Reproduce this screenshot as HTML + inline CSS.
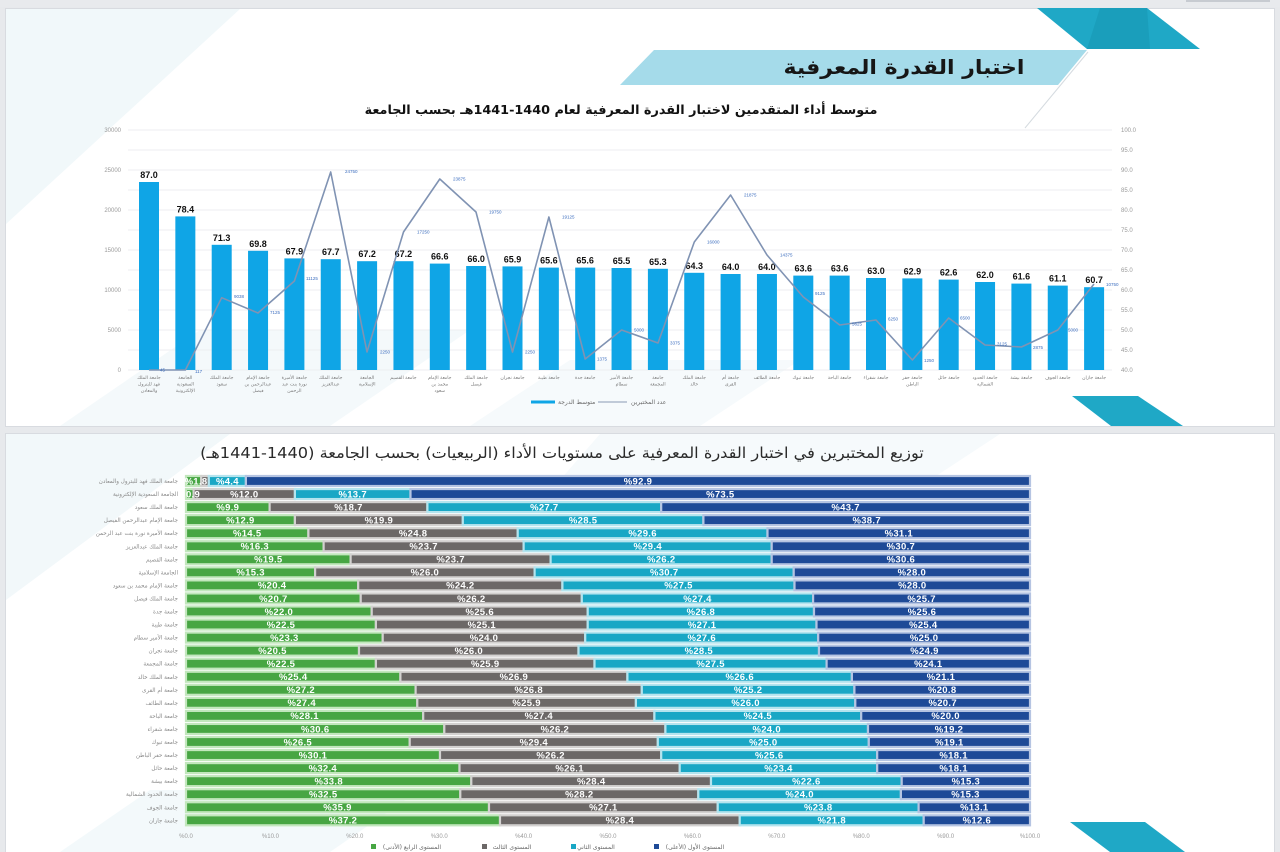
<!DOCTYPE html>
<html><head><meta charset="utf-8">
<style>
html,body{margin:0;padding:0;}
body{width:1280px;height:852px;overflow:hidden;background:#e7e9ec;position:relative;font-family:"Liberation Sans","DejaVu Sans",sans-serif;}
svg{position:absolute;left:0;top:0;}
.t1{position:absolute;left:321px;top:103px;width:600px;text-align:center;direction:rtl;white-space:nowrap;font:bold 12.8px "DejaVu Sans",sans-serif;color:#111;}
.t2{position:absolute;left:162px;top:444px;width:800px;text-align:center;direction:rtl;white-space:nowrap;font:15px "DejaVu Sans",sans-serif;color:#2a2a2a;transform:scaleX(1.08);transform-origin:center;}
.G{fill:#47a643;stroke:#c2e7bd;stroke-width:2.2}
.R{fill:#6c6867;stroke:#d3d1d0;stroke-width:2.2}
.C{fill:#19a7c5;stroke:#b4e4ee;stroke-width:2.2}
.B{fill:#1e4a97;stroke:#b5c4e2;stroke-width:2.2}
.L{fill:#fff;font:bold 9.5px "Liberation Sans",sans-serif;text-anchor:middle;letter-spacing:0.3px}
.N{fill:#8a8a8a;font:5.6px "DejaVu Sans",sans-serif;text-anchor:end}
.ax{fill:#9a9a9a;font:6px "Liberation Sans",sans-serif}
.bv{fill:#111;font:bold 9px "Liberation Sans",sans-serif;text-anchor:middle}
.lv{fill:#3b6dbf;font:4.5px "Liberation Sans",sans-serif}
.cat{fill:#7a7a7a;font:4.6px "DejaVu Sans",sans-serif;text-anchor:middle}
.lg{fill:#666;font:6px "DejaVu Sans",sans-serif}
</style></head>
<body>
<svg width="1280" height="852" viewBox="0 0 1280 852" xmlns="http://www.w3.org/2000/svg">
<rect x="0" y="0" width="1280" height="7" fill="#e8eaed"/>
<rect x="1186" y="0" width="84" height="2" fill="#c7cbd1"/>
<rect x="5.5" y="8.5" width="1269" height="418" fill="#ffffff" stroke="#d8dbe0"/>
<rect x="5.5" y="433.5" width="1269" height="430" fill="#ffffff" stroke="#d8dbe0"/>
<polygon points="6,9 240,9 6,224" fill="#f1f8fa"/>
<polygon points="60,426 330,426 470,330 200,330" fill="#f4f9fb"/>
<polygon points="470,426 700,426 800,360 570,360" fill="#f6fafc"/>
<polygon points="6,434 230,434 6,600" fill="#f2f8fa"/>
<polygon points="600,434 1000,434 930,480 560,480" fill="#f6fafc"/>
<polygon points="60,852 330,852 420,790 150,790" fill="#f3f9fb"/>

<polygon points="1037,8 1147,8 1200,49 1087,49" fill="#1fa8c6"/>
<polygon points="1100,8 1147,8 1150,49 1087,49" fill="#1897b4" opacity="0.6"/>
<polygon points="654,50 1087,50 1058,85 620,85" fill="#a5dbea"/>
<line x1="1088" y1="52" x2="1025" y2="128" stroke="#d5dbe0" stroke-width="1"/>
<text transform="translate(904,74) scale(1.1,1)" x="0" y="0" font-family="DejaVu Sans" font-weight="bold" font-size="20" text-anchor="middle" fill="#161616">اختبار القدرة المعرفية</text>

<polygon points="1072,396 1138,396 1183,426 1111,426" fill="#1fa8c6"/>
<polygon points="1070,822 1145,822 1185,852 1110,852" fill="#1fa8c6"/>

<g stroke="#eceef1" stroke-width="1">
<line x1="128" y1="130" x2="1112" y2="130"/><line x1="128" y1="150" x2="1112" y2="150"/>
<line x1="128" y1="170" x2="1112" y2="170"/><line x1="128" y1="190" x2="1112" y2="190"/>
<line x1="128" y1="210" x2="1112" y2="210"/><line x1="128" y1="230" x2="1112" y2="230"/>
<line x1="128" y1="250" x2="1112" y2="250"/><line x1="128" y1="270" x2="1112" y2="270"/>
<line x1="128" y1="290" x2="1112" y2="290"/><line x1="128" y1="310" x2="1112" y2="310"/>
<line x1="128" y1="330" x2="1112" y2="330"/><line x1="128" y1="350" x2="1112" y2="350"/>
<line x1="128" y1="370" x2="1112" y2="370"/>
</g>
<g class="ax" text-anchor="end">
<text x="121" y="132">30000</text><text x="121" y="172">25000</text><text x="121" y="212">20000</text>
<text x="121" y="252">15000</text><text x="121" y="292">10000</text><text x="121" y="332">5000</text>
<text x="121" y="372">0</text>
</g>
<g class="ax">
<text x="1121" y="132">100.0</text><text x="1121" y="152">95.0</text><text x="1121" y="172">90.0</text>
<text x="1121" y="192">85.0</text><text x="1121" y="212">80.0</text><text x="1121" y="232">75.0</text>
<text x="1121" y="252">70.0</text><text x="1121" y="272">65.0</text><text x="1121" y="292">60.0</text>
<text x="1121" y="312">55.0</text><text x="1121" y="332">50.0</text><text x="1121" y="352">45.0</text>
<text x="1121" y="372">40.0</text>
</g>
<g fill="#0fa5e6">
<rect x="139" y="182" width="20" height="188"/>
<rect x="175.35" y="216.4" width="20" height="153.6"/>
<rect x="211.7" y="244.8" width="20" height="125.2"/>
<rect x="248.05" y="250.8" width="20" height="119.2"/>
<rect x="284.4" y="258.4" width="20" height="111.6"/>
<rect x="320.75" y="259.2" width="20" height="110.8"/>
<rect x="357.1" y="261.2" width="20" height="108.8"/>
<rect x="393.45" y="261.2" width="20" height="108.8"/>
<rect x="429.8" y="263.6" width="20" height="106.4"/>
<rect x="466.15" y="266" width="20" height="104"/>
<rect x="502.5" y="266.4" width="20" height="103.6"/>
<rect x="538.85" y="267.6" width="20" height="102.4"/>
<rect x="575.2" y="267.6" width="20" height="102.4"/>
<rect x="611.55" y="268" width="20" height="102"/>
<rect x="647.9" y="268.8" width="20" height="101.2"/>
<rect x="684.25" y="272.8" width="20" height="97.2"/>
<rect x="720.6" y="274" width="20" height="96"/>
<rect x="756.95" y="274" width="20" height="96"/>
<rect x="793.3" y="275.6" width="20" height="94.4"/>
<rect x="829.65" y="275.6" width="20" height="94.4"/>
<rect x="866" y="278" width="20" height="92"/>
<rect x="902.35" y="278.4" width="20" height="91.6"/>
<rect x="938.7" y="279.6" width="20" height="90.4"/>
<rect x="975.05" y="282" width="20" height="88"/>
<rect x="1011.4" y="283.6" width="20" height="86.4"/>
<rect x="1047.75" y="285.6" width="20" height="84.4"/>
<rect x="1084.1" y="287.2" width="20" height="82.8"/>
</g>
<g class="bv">
<text x="149" y="178">87.0</text><text x="185.35" y="212.4">78.4</text><text x="221.7" y="240.8">71.3</text>
<text x="258.05" y="246.8">69.8</text><text x="294.4" y="254.4">67.9</text><text x="330.75" y="255.2">67.7</text>
<text x="367.1" y="257.2">67.2</text><text x="403.45" y="257.2">67.2</text><text x="439.8" y="259.6">66.6</text>
<text x="476.15" y="262">66.0</text><text x="512.5" y="262.4">65.9</text><text x="548.85" y="263.6">65.6</text>
<text x="585.2" y="263.6">65.6</text><text x="621.55" y="264">65.5</text><text x="657.9" y="264.8">65.3</text>
<text x="694.25" y="268.8">64.3</text><text x="730.6" y="270">64.0</text><text x="766.95" y="270">64.0</text>
<text x="803.3" y="271.6">63.6</text><text x="839.65" y="271.6">63.6</text><text x="876" y="274">63.0</text>
<text x="912.35" y="274.4">62.9</text><text x="948.7" y="275.6">62.6</text><text x="985.05" y="278">62.0</text>
<text x="1021.4" y="279.6">61.6</text><text x="1057.75" y="281.6">61.1</text><text x="1094.1" y="283.2">60.7</text>
</g>
<polyline fill="none" stroke="#8093b3" stroke-width="1.6" stroke-linejoin="round"
points="149,370 185.4,370 221.7,297.7 258,313 294.4,281 330.7,172 367,352 403.5,232 439.8,179 476,212 512.5,352 548.9,217 585.2,359 621.6,330 658,343 694.3,242 730.6,195 767,255 803.3,297 839.7,325 876,320 912.4,360 948.7,318 985,345 1021.4,347 1057.8,330 1094,284"/>
<g class="lv">
<text x="160" y="371.5">45</text><text x="195" y="373">117</text><text x="234" y="298">9038</text>
<text x="270" y="314">7125</text><text x="306" y="280">11125</text><text x="345" y="173">24750</text>
<text x="380" y="353.5">2250</text><text x="417" y="233.5">17250</text><text x="453" y="180.5">23875</text>
<text x="489" y="213.5">19750</text><text x="525" y="353.5">2250</text><text x="562" y="218.5">19125</text>
<text x="597" y="360.5">1375</text><text x="634" y="331.5">5000</text><text x="670" y="344.5">3375</text>
<text x="707" y="243.5">16000</text><text x="744" y="196.5">21875</text><text x="780" y="256.5">14375</text>
<text x="815" y="295">9125</text><text x="852" y="325.5">5625</text><text x="888" y="320.5">6250</text>
<text x="924" y="362">1250</text><text x="960" y="319.5">6500</text><text x="997" y="345.5">3125</text>
<text x="1033" y="349">2875</text><text x="1068" y="331.5">5000</text><text x="1106" y="286">10750</text>
</g>
<g class="cat">
<text x="149" y="379">جامعة الملك</text><text x="149" y="385.5">فهد للبترول</text><text x="149" y="392">والمعادن</text>
<text x="185.35" y="379">الجامعة</text><text x="185.35" y="385.5">السعودية</text><text x="185.35" y="392">الإلكترونية</text>
<text x="221.7" y="379">جامعة الملك</text><text x="221.7" y="385.5">سعود</text>
<text x="258.05" y="379">جامعة الإمام</text><text x="258.05" y="385.5">عبدالرحمن بن</text><text x="258.05" y="392">فيصل</text>
<text x="294.4" y="379">جامعة الأميرة</text><text x="294.4" y="385.5">نورة بنت عبد</text><text x="294.4" y="392">الرحمن</text>
<text x="330.75" y="379">جامعة الملك</text><text x="330.75" y="385.5">عبدالعزيز</text>
<text x="367.1" y="379">الجامعة</text><text x="367.1" y="385.5">الإسلامية</text>
<text x="403.45" y="379">جامعة القصيم</text>
<text x="439.8" y="379">جامعة الإمام</text><text x="439.8" y="385.5">محمد بن</text><text x="439.8" y="392">سعود</text>
<text x="476.15" y="379">جامعة الملك</text><text x="476.15" y="385.5">فيصل</text>
<text x="512.5" y="379">جامعة نجران</text>
<text x="548.85" y="379">جامعة طيبة</text>
<text x="585.2" y="379">جامعة جدة</text>
<text x="621.55" y="379">جامعة الأمير</text><text x="621.55" y="385.5">سطام</text>
<text x="657.9" y="379">جامعة</text><text x="657.9" y="385.5">المجمعة</text>
<text x="694.25" y="379">جامعة الملك</text><text x="694.25" y="385.5">خالد</text>
<text x="730.6" y="379">جامعة أم</text><text x="730.6" y="385.5">القرى</text>
<text x="766.95" y="379">جامعة الطائف</text>
<text x="803.3" y="379">جامعة تبوك</text>
<text x="839.65" y="379">جامعة الباحة</text>
<text x="876" y="379">جامعة شقراء</text>
<text x="912.35" y="379">جامعة حفر</text><text x="912.35" y="385.5">الباطن</text>
<text x="948.7" y="379">جامعة حائل</text>
<text x="985.05" y="379">جامعة الحدود</text><text x="985.05" y="385.5">الشمالية</text>
<text x="1021.4" y="379">جامعة بيشة</text>
<text x="1057.75" y="379">جامعة الجوف</text>
<text x="1094.1" y="379">جامعة جازان</text>
</g>
<rect x="531" y="400.5" width="24" height="3" fill="#0fa5e6"/>
<text class="lg" x="558" y="404">متوسط الدرجة</text>
<line x1="598" y1="402" x2="627" y2="402" stroke="#8a9ab5" stroke-width="1"/>
<text class="lg" x="631" y="404">عدد المختبرين</text>

<g id="rows">
<g transform="translate(0,481)">
<rect class="G" x="186" y="-5" width="15.2" height="10"/><rect class="R" x="201.2" y="-5" width="7.6" height="10"/><rect class="C" x="208.8" y="-5" width="37.1" height="10"/><rect class="B" x="245.9" y="-5" width="784.1" height="10"/>
<text class="L" x="196" y="3.3">%1.8</text><text class="L" x="227.4" y="3.3">%4.4</text><text class="L" x="638" y="3.3">%92.9</text>
<text class="N" x="178" y="2">جامعة الملك فهد للبترول والمعادن</text></g>
<g transform="translate(0,494.05)">
<rect class="G" x="186" y="-5" width="7.6" height="10"/><rect class="R" x="193.6" y="-5" width="101.3" height="10"/><rect class="C" x="294.9" y="-5" width="115.6" height="10"/><rect class="B" x="410.5" y="-5" width="619.5" height="10"/>
<text class="L" x="193" y="3.3">0.9</text><text class="L" x="244.3" y="3.3">%12.0</text><text class="L" x="352.7" y="3.3">%13.7</text><text class="L" x="720.3" y="3.3">%73.5</text>
<text class="N" x="178" y="2">الجامعة السعودية الإلكترونية</text></g>
<g transform="translate(0,507.1)">
<rect class="G" x="186" y="-5" width="83.6" height="10"/><rect class="R" x="269.6" y="-5" width="157.8" height="10"/><rect class="C" x="427.4" y="-5" width="233.8" height="10"/><rect class="B" x="661.2" y="-5" width="368.8" height="10"/>
<text class="L" x="227.8" y="3.3">%9.9</text><text class="L" x="348.5" y="3.3">%18.7</text><text class="L" x="544.3" y="3.3">%27.7</text><text class="L" x="845.6" y="3.3">%43.7</text>
<text class="N" x="178" y="2">جامعة الملك سعود</text></g>
<g transform="translate(0,520.15)">
<rect class="G" x="186" y="-5" width="108.9" height="10"/><rect class="R" x="294.9" y="-5" width="167.9" height="10"/><rect class="C" x="462.8" y="-5" width="240.6" height="10"/><rect class="B" x="703.4" y="-5" width="326.6" height="10"/>
<text class="L" x="240.4" y="3.3">%12.9</text><text class="L" x="378.9" y="3.3">%19.9</text><text class="L" x="583.1" y="3.3">%28.5</text><text class="L" x="866.7" y="3.3">%38.7</text>
<text class="N" x="178" y="2">جامعة الإمام عبدالرحمن الفيصل</text></g>
<g transform="translate(0,533.2)">
<rect class="G" x="186" y="-5" width="122.4" height="10"/><rect class="R" x="308.4" y="-5" width="209.3" height="10"/><rect class="C" x="517.7" y="-5" width="249.8" height="10"/><rect class="B" x="767.5" y="-5" width="262.5" height="10"/>
<text class="L" x="247.2" y="3.3">%14.5</text><text class="L" x="413.1" y="3.3">%24.8</text><text class="L" x="642.6" y="3.3">%29.6</text><text class="L" x="898.8" y="3.3">%31.1</text>
<text class="N" x="178" y="2">جامعة الأميرة نورة بنت عبد الرحمن</text></g>
<g transform="translate(0,546.25)">
<rect class="G" x="186" y="-5" width="137.6" height="10"/><rect class="R" x="323.6" y="-5" width="200" height="10"/><rect class="C" x="523.6" y="-5" width="248.1" height="10"/><rect class="B" x="771.7" y="-5" width="258.3" height="10"/>
<text class="L" x="254.8" y="3.3">%16.3</text><text class="L" x="423.6" y="3.3">%23.7</text><text class="L" x="647.7" y="3.3">%29.4</text><text class="L" x="900.9" y="3.3">%30.7</text>
<text class="N" x="178" y="2">جامعة الملك عبدالعزيز</text></g>
<g transform="translate(0,559.3)">
<rect class="G" x="186" y="-5" width="164.6" height="10"/><rect class="R" x="350.6" y="-5" width="200" height="10"/><rect class="C" x="550.6" y="-5" width="221.1" height="10"/><rect class="B" x="771.7" y="-5" width="258.3" height="10"/>
<text class="L" x="268.3" y="3.3">%19.5</text><text class="L" x="450.6" y="3.3">%23.7</text><text class="L" x="661.2" y="3.3">%26.2</text><text class="L" x="900.9" y="3.3">%30.6</text>
<text class="N" x="178" y="2">جامعة القصيم</text></g>
<g transform="translate(0,572.35)">
<rect class="G" x="186" y="-5" width="129.1" height="10"/><rect class="R" x="315.1" y="-5" width="219.5" height="10"/><rect class="C" x="534.6" y="-5" width="259.1" height="10"/><rect class="B" x="793.7" y="-5" width="236.3" height="10"/>
<text class="L" x="250.6" y="3.3">%15.3</text><text class="L" x="424.9" y="3.3">%26.0</text><text class="L" x="664.2" y="3.3">%30.7</text><text class="L" x="911.9" y="3.3">%28.0</text>
<text class="N" x="178" y="2">الجامعة الإسلامية</text></g>
<g transform="translate(0,585.4)">
<rect class="G" x="186" y="-5" width="172.2" height="10"/><rect class="R" x="358.2" y="-5" width="204.2" height="10"/><rect class="C" x="562.4" y="-5" width="232.1" height="10"/><rect class="B" x="794.5" y="-5" width="235.5" height="10"/>
<text class="L" x="272.1" y="3.3">%20.4</text><text class="L" x="460.3" y="3.3">%24.2</text><text class="L" x="678.5" y="3.3">%27.5</text><text class="L" x="912.3" y="3.3">%28.0</text>
<text class="N" x="178" y="2">جامعة الإمام محمد بن سعود</text></g>
<g transform="translate(0,598.45)">
<rect class="G" x="186" y="-5" width="174.7" height="10"/><rect class="R" x="360.7" y="-5" width="221.1" height="10"/><rect class="C" x="581.8" y="-5" width="231.3" height="10"/><rect class="B" x="813.1" y="-5" width="216.9" height="10"/>
<text class="L" x="273.4" y="3.3">%20.7</text><text class="L" x="471.3" y="3.3">%26.2</text><text class="L" x="697.5" y="3.3">%27.4</text><text class="L" x="921.6" y="3.3">%25.7</text>
<text class="N" x="178" y="2">جامعة الملك فيصل</text></g>
<g transform="translate(0,611.5)">
<rect class="G" x="186" y="-5" width="185.7" height="10"/><rect class="R" x="371.7" y="-5" width="216" height="10"/><rect class="C" x="587.7" y="-5" width="226.3" height="10"/><rect class="B" x="814" y="-5" width="216" height="10"/>
<text class="L" x="278.9" y="3.3">%22.0</text><text class="L" x="479.7" y="3.3">%25.6</text><text class="L" x="700.9" y="3.3">%26.8</text><text class="L" x="922" y="3.3">%25.6</text>
<text class="N" x="178" y="2">جامعة جدة</text></g>
<g transform="translate(0,624.55)">
<rect class="G" x="186" y="-5" width="189.9" height="10"/><rect class="R" x="375.9" y="-5" width="211.8" height="10"/><rect class="C" x="587.7" y="-5" width="228.8" height="10"/><rect class="B" x="816.5" y="-5" width="213.5" height="10"/>
<text class="L" x="281" y="3.3">%22.5</text><text class="L" x="481.8" y="3.3">%25.1</text><text class="L" x="702.1" y="3.3">%27.1</text><text class="L" x="923.3" y="3.3">%25.4</text>
<text class="N" x="178" y="2">جامعة طيبة</text></g>
<g transform="translate(0,637.6)">
<rect class="G" x="186" y="-5" width="196.7" height="10"/><rect class="R" x="382.7" y="-5" width="202.5" height="10"/><rect class="C" x="585.2" y="-5" width="233" height="10"/><rect class="B" x="818.2" y="-5" width="211.8" height="10"/>
<text class="L" x="284.4" y="3.3">%23.3</text><text class="L" x="484" y="3.3">%24.0</text><text class="L" x="701.7" y="3.3">%27.6</text><text class="L" x="924.1" y="3.3">%25.0</text>
<text class="N" x="178" y="2">جامعة الأمير سطام</text></g>
<g transform="translate(0,650.65)">
<rect class="G" x="186" y="-5" width="173" height="10"/><rect class="R" x="359" y="-5" width="219.5" height="10"/><rect class="C" x="578.5" y="-5" width="240.5" height="10"/><rect class="B" x="819" y="-5" width="211" height="10"/>
<text class="L" x="272.5" y="3.3">%20.5</text><text class="L" x="468.8" y="3.3">%26.0</text><text class="L" x="698.8" y="3.3">%28.5</text><text class="L" x="924.5" y="3.3">%24.9</text>
<text class="N" x="178" y="2">جامعة نجران</text></g>
<g transform="translate(0,663.7)">
<rect class="G" x="186" y="-5" width="189.9" height="10"/><rect class="R" x="375.9" y="-5" width="218.6" height="10"/><rect class="C" x="594.5" y="-5" width="232.1" height="10"/><rect class="B" x="826.6" y="-5" width="203.4" height="10"/>
<text class="L" x="281" y="3.3">%22.5</text><text class="L" x="485.2" y="3.3">%25.9</text><text class="L" x="710.6" y="3.3">%27.5</text><text class="L" x="928.3" y="3.3">%24.1</text>
<text class="N" x="178" y="2">جامعة المجمعة</text></g>
<g transform="translate(0,676.75)">
<rect class="G" x="186" y="-5" width="214.4" height="10"/><rect class="R" x="400.4" y="-5" width="227" height="10"/><rect class="C" x="627.4" y="-5" width="224.5" height="10"/><rect class="B" x="851.9" y="-5" width="178.1" height="10"/>
<text class="L" x="293.2" y="3.3">%25.4</text><text class="L" x="513.9" y="3.3">%26.9</text><text class="L" x="739.7" y="3.3">%26.6</text><text class="L" x="941" y="3.3">%21.1</text>
<text class="N" x="178" y="2">جامعة الملك خالد</text></g>
<g transform="translate(0,689.8)">
<rect class="G" x="186" y="-5" width="229.6" height="10"/><rect class="R" x="415.6" y="-5" width="226.2" height="10"/><rect class="C" x="641.8" y="-5" width="212.6" height="10"/><rect class="B" x="854.4" y="-5" width="175.6" height="10"/>
<text class="L" x="300.8" y="3.3">%27.2</text><text class="L" x="528.7" y="3.3">%26.8</text><text class="L" x="748.1" y="3.3">%25.2</text><text class="L" x="942.2" y="3.3">%20.8</text>
<text class="N" x="178" y="2">جامعة أم القرى</text></g>
<g transform="translate(0,702.85)">
<rect class="G" x="186" y="-5" width="231.3" height="10"/><rect class="R" x="417.3" y="-5" width="218.6" height="10"/><rect class="C" x="635.9" y="-5" width="219.4" height="10"/><rect class="B" x="855.3" y="-5" width="174.7" height="10"/>
<text class="L" x="301.7" y="3.3">%27.4</text><text class="L" x="526.6" y="3.3">%25.9</text><text class="L" x="745.6" y="3.3">%26.0</text><text class="L" x="942.7" y="3.3">%20.7</text>
<text class="N" x="178" y="2">جامعة الطائف</text></g>
<g transform="translate(0,715.9)">
<rect class="G" x="186" y="-5" width="237.2" height="10"/><rect class="R" x="423.2" y="-5" width="231.2" height="10"/><rect class="C" x="654.4" y="-5" width="206.8" height="10"/><rect class="B" x="861.2" y="-5" width="168.8" height="10"/>
<text class="L" x="304.6" y="3.3">%28.1</text><text class="L" x="538.8" y="3.3">%27.4</text><text class="L" x="757.8" y="3.3">%24.5</text><text class="L" x="945.6" y="3.3">%20.0</text>
<text class="N" x="178" y="2">جامعة الباحة</text></g>
<g transform="translate(0,728.95)">
<rect class="G" x="186" y="-5" width="258.3" height="10"/><rect class="R" x="444.3" y="-5" width="221.1" height="10"/><rect class="C" x="665.4" y="-5" width="202.6" height="10"/><rect class="B" x="868" y="-5" width="162" height="10"/>
<text class="L" x="315.2" y="3.3">%30.6</text><text class="L" x="554.9" y="3.3">%26.2</text><text class="L" x="766.7" y="3.3">%24.0</text><text class="L" x="949" y="3.3">%19.2</text>
<text class="N" x="178" y="2">جامعة شقراء</text></g>
<g transform="translate(0,742)">
<rect class="G" x="186" y="-5" width="223.7" height="10"/><rect class="R" x="409.7" y="-5" width="248.1" height="10"/><rect class="C" x="657.8" y="-5" width="211" height="10"/><rect class="B" x="868.8" y="-5" width="161.2" height="10"/>
<text class="L" x="297.8" y="3.3">%26.5</text><text class="L" x="533.8" y="3.3">%29.4</text><text class="L" x="763.3" y="3.3">%25.0</text><text class="L" x="949.4" y="3.3">%19.1</text>
<text class="N" x="178" y="2">جامعة تبوك</text></g>
<g transform="translate(0,755.05)">
<rect class="G" x="186" y="-5" width="254" height="10"/><rect class="R" x="440" y="-5" width="221.2" height="10"/><rect class="C" x="661.2" y="-5" width="216" height="10"/><rect class="B" x="877.2" y="-5" width="152.8" height="10"/>
<text class="L" x="313" y="3.3">%30.1</text><text class="L" x="550.6" y="3.3">%26.2</text><text class="L" x="769.2" y="3.3">%25.6</text><text class="L" x="953.6" y="3.3">%18.1</text>
<text class="N" x="178" y="2">جامعة حفر الباطن</text></g>
<g transform="translate(0,768.1)">
<rect class="G" x="186" y="-5" width="273.5" height="10"/><rect class="R" x="459.5" y="-5" width="220.2" height="10"/><rect class="C" x="679.7" y="-5" width="197.5" height="10"/><rect class="B" x="877.2" y="-5" width="152.8" height="10"/>
<text class="L" x="322.8" y="3.3">%32.4</text><text class="L" x="569.6" y="3.3">%26.1</text><text class="L" x="778.5" y="3.3">%23.4</text><text class="L" x="953.6" y="3.3">%18.1</text>
<text class="N" x="178" y="2">جامعة حائل</text></g>
<g transform="translate(0,781.15)">
<rect class="G" x="186" y="-5" width="285.3" height="10"/><rect class="R" x="471.3" y="-5" width="239.7" height="10"/><rect class="C" x="711" y="-5" width="190.7" height="10"/><rect class="B" x="901.7" y="-5" width="128.3" height="10"/>
<text class="L" x="328.7" y="3.3">%33.8</text><text class="L" x="591.2" y="3.3">%28.4</text><text class="L" x="806.4" y="3.3">%22.6</text><text class="L" x="965.9" y="3.3">%15.3</text>
<text class="N" x="178" y="2">جامعة بيشة</text></g>
<g transform="translate(0,794.2)">
<rect class="G" x="186" y="-5" width="274.3" height="10"/><rect class="R" x="460.3" y="-5" width="238" height="10"/><rect class="C" x="698.3" y="-5" width="202.6" height="10"/><rect class="B" x="900.9" y="-5" width="129.1" height="10"/>
<text class="L" x="323.2" y="3.3">%32.5</text><text class="L" x="579.3" y="3.3">%28.2</text><text class="L" x="799.6" y="3.3">%24.0</text><text class="L" x="965.5" y="3.3">%15.3</text>
<text class="N" x="178" y="2">جامعة الحدود الشمالية</text></g>
<g transform="translate(0,807.25)">
<rect class="G" x="186" y="-5" width="303" height="10"/><rect class="R" x="489" y="-5" width="228.7" height="10"/><rect class="C" x="717.7" y="-5" width="200.9" height="10"/><rect class="B" x="918.6" y="-5" width="111.4" height="10"/>
<text class="L" x="337.5" y="3.3">%35.9</text><text class="L" x="603.4" y="3.3">%27.1</text><text class="L" x="818.2" y="3.3">%23.8</text><text class="L" x="974.3" y="3.3">%13.1</text>
<text class="N" x="178" y="2">جامعة الجوف</text></g>
<g transform="translate(0,820.3)">
<rect class="G" x="186" y="-5" width="314" height="10"/><rect class="R" x="500" y="-5" width="239.7" height="10"/><rect class="C" x="739.7" y="-5" width="184" height="10"/><rect class="B" x="923.7" y="-5" width="106.3" height="10"/>
<text class="L" x="343" y="3.3">%37.2</text><text class="L" x="619.9" y="3.3">%28.4</text><text class="L" x="831.7" y="3.3">%21.8</text><text class="L" x="976.9" y="3.3">%12.6</text>
<text class="N" x="178" y="2">جامعة جازان</text></g>
</g>
<g class="ax" text-anchor="middle">
<text x="186" y="838">%0.0</text><text x="270.4" y="838">%10.0</text><text x="354.8" y="838">%20.0</text>
<text x="439.2" y="838">%30.0</text><text x="523.6" y="838">%40.0</text><text x="608" y="838">%50.0</text>
<text x="692.4" y="838">%60.0</text><text x="776.8" y="838">%70.0</text><text x="861.2" y="838">%80.0</text>
<text x="945.6" y="838">%90.0</text><text x="1030" y="838">%100.0</text>
</g>
<rect x="371" y="844" width="5" height="5" fill="#47a643"/>
<text class="lg" x="412" y="849" text-anchor="middle" style="direction:rtl">المستوى الرابع (الأدنى)</text>
<rect x="482" y="844" width="5" height="5" fill="#6c6867"/>
<text class="lg" x="512" y="849" text-anchor="middle" style="direction:rtl">المستوى الثالث</text>
<rect x="571" y="844" width="5" height="5" fill="#19a7c5"/>
<text class="lg" x="596" y="849" text-anchor="middle" style="direction:rtl">المستوى الثاني</text>
<rect x="654" y="844" width="5" height="5" fill="#1e4a97"/>
<text class="lg" x="695" y="849" text-anchor="middle" style="direction:rtl">المستوى الأول (الأعلى)</text>
</svg>

<div class="t1">متوسط أداء المتقدمين لاختبار القدرة المعرفية لعام 1440-1441هـ بحسب الجامعة</div>
<div class="t2">توزيع المختبرين في اختبار القدرة المعرفية على مستويات الأداء (الربيعيات) بحسب الجامعة (1440-1441هـ)</div>
</body></html>
